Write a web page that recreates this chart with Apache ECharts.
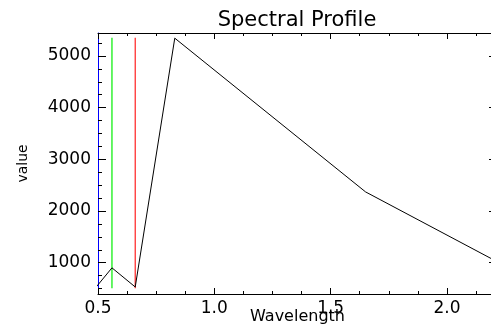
<!DOCTYPE html>
<html>
<head>
<meta charset="utf-8">
<script src="https://cdn.jsdelivr.net/npm/echarts@6/dist/echarts.min.js"></script>
<style>
html,body{margin:0;padding:0;background:#fff;}
#chart{width:491px;height:328px;}
</style>
</head>
<body>
<div id="chart"></div>
<script>
// ---- data ----
const wavelengths = [0.485, 0.56, 0.66, 0.83, 1.65, 2.215];
const values = [490, 900, 530, 5345, 2370, 1020];
const greenBand = 0.56;
const redBand = 0.66;
const bandLineSpan = [505, 5355];
const xMajorTicks = [0.5, 1.0, 1.5, 2.0];
const xMinorTicks = [0.625, 0.75, 0.875, 1.125, 1.25, 1.375, 1.625, 1.75, 1.875, 2.125];
const yMajorTicks = [1000, 2000, 3000, 4000, 5000];
const yMinorTicks = [500, 750, 1250, 1500, 1750, 2250, 2500, 2750, 3250, 3500, 3750, 4250, 4500, 4750, 5250];
const xRange = [0.5, 2.215];
const yRange = [394, 5445];

const FONT = 'DejaVu Sans';
const chart = echarts.init(document.getElementById('chart'), null, {renderer: 'canvas'});

function xAx(pos, ticks, len, showLine, showLabel) {
  return {
    type: 'value', position: pos, min: xRange[0], max: xRange[1],
    axisLine: {show: showLine, onZero: false, lineStyle: {color: '#000', width: 1}},
    axisTick: {show: true, inside: true, length: len, customValues: ticks, lineStyle: {color: '#000', width: 1}},
    axisLabel: {show: showLabel, customValues: ticks, formatter: v => v.toFixed(1), color: '#000',
      fontFamily: FONT, fontSize: 17, margin: 6},
    splitLine: {show: false}
  };
}
function yAx(pos, ticks, len, lineColor, showLabel) {
  return {
    type: 'value', position: pos, min: yRange[0], max: yRange[1],
    axisLine: {show: !!lineColor, onZero: false, lineStyle: {color: lineColor || '#000', width: 1}},
    axisTick: {show: true, inside: true, length: len, customValues: ticks, lineStyle: {color: '#000', width: 1}},
    axisLabel: {show: showLabel, customValues: ticks, formatter: v => String(v), color: '#000',
      fontFamily: FONT, fontSize: 17, margin: 7},
    splitLine: {show: false}
  };
}

const xAxes = [
  xAx('bottom', xMajorTicks, 6, true, true),
  xAx('bottom', xMinorTicks, 3, false, false),
  xAx('top', xMajorTicks, 6, true, false),
  xAx('top', xMinorTicks, 3, false, false)
];
Object.assign(xAxes[0], {name: 'Wavelength', nameLocation: 'middle', nameGap: 15, nameMoveOverlap: false,
  nameTextStyle: {color: '#000', fontFamily: FONT, fontSize: 16}});

const yAxes = [
  yAx('left', yMajorTicks, 8, '#0000ff', true),
  yAx('left', yMinorTicks, 4, null, false),
  yAx('right', yMajorTicks, 8, '#000', false),
  yAx('right', yMinorTicks, 4, null, false)
];
Object.assign(yAxes[0], {name: 'value', nameLocation: 'middle', nameGap: 68, nameMoveOverlap: false,
  nameTextStyle: {color: '#000', fontFamily: FONT, fontSize: 14}});

const option = {
  backgroundColor: '#fff',
  animation: false,
  title: {
    text: 'Spectral Profile', left: 292, top: 5, textAlign: 'center',
    textStyle: {color: '#000', fontFamily: FONT, fontSize: 21, fontWeight: 'normal'}
  },
  grid: {left: 98, right: -6, top: 33, bottom: 34, containLabel: false, outerBoundsMode: 'none'},
  xAxis: xAxes,
  yAxis: yAxes,
  series: [
    {
      type: 'line', name: 'green', xAxisIndex: 0, yAxisIndex: 0, symbol: 'none',
      data: [[greenBand, bandLineSpan[0]], [greenBand, bandLineSpan[1]]],
      lineStyle: {color: '#00ee00', width: 1.2}
    },
    {
      type: 'line', name: 'red', xAxisIndex: 0, yAxisIndex: 0, symbol: 'none',
      data: [[redBand, bandLineSpan[0]], [redBand, bandLineSpan[1]]],
      lineStyle: {color: '#ff2020', width: 1.2}
    },
    {
      type: 'line', name: 'profile', xAxisIndex: 0, yAxisIndex: 0, symbol: 'none', clip: true,
      data: wavelengths.map((w, i) => [w, values[i]]),
      lineStyle: {color: '#000', width: 1}
    }
  ]
};
chart.setOption(option);
</script>
</body>
</html>
